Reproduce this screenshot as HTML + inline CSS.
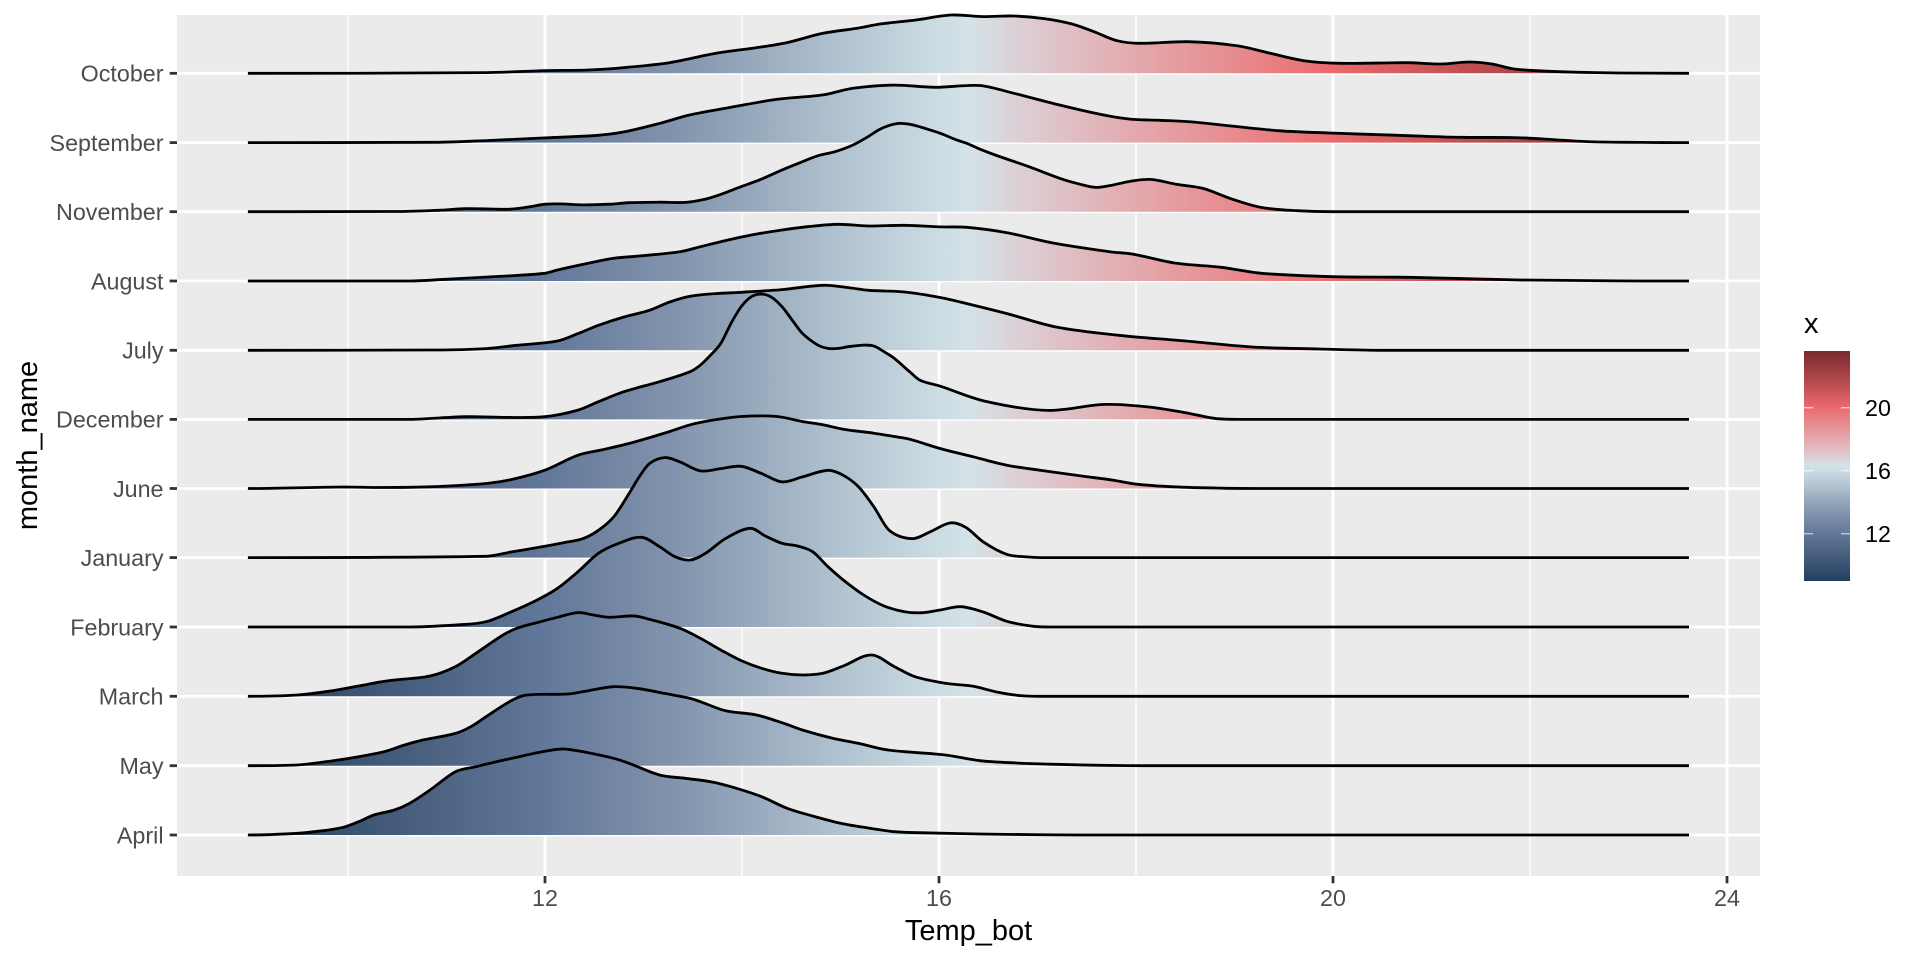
<!DOCTYPE html>
<html>
<head>
<meta charset="utf-8">
<style>
html,body{margin:0;padding:0;background:#ffffff;}
svg{display:block;}
text{font-family:"Liberation Sans", Arial, sans-serif;}
</style>
</head>
<body>
<svg id="chart" width="1920" height="960" viewBox="0 0 1920 960" xmlns="http://www.w3.org/2000/svg">
<defs>
<linearGradient id="g" gradientUnits="userSpaceOnUse" x1="247.9" y1="0" x2="1689" y2="0">
<stop offset="0" stop-color="#223e5e"/>
<stop offset="0.069" stop-color="#3b5373"/>
<stop offset="0.1375" stop-color="#4e6584"/>
<stop offset="0.206" stop-color="#62789a"/>
<stop offset="0.274" stop-color="#7a8ca7"/>
<stop offset="0.343" stop-color="#94a6ba"/>
<stop offset="0.411" stop-color="#b1c2d0"/>
<stop offset="0.479" stop-color="#ccdce3"/>
<stop offset="0.5" stop-color="#d4e3e8"/>
<stop offset="0.534" stop-color="#dcd0d6"/>
<stop offset="0.582" stop-color="#e0b9be"/>
<stop offset="0.616" stop-color="#e3a9ad"/>
<stop offset="0.685" stop-color="#e78b8e"/>
<stop offset="0.753" stop-color="#ea6b6e"/>
<stop offset="0.821" stop-color="#cb5659"/>
<stop offset="0.890" stop-color="#a94447"/>
<stop offset="1" stop-color="#782a2f"/>
</linearGradient>
<linearGradient id="gl" gradientUnits="userSpaceOnUse" x1="0" y1="581" x2="0" y2="351">
<stop offset="0" stop-color="#223e5e"/>
<stop offset="0.069" stop-color="#3b5373"/>
<stop offset="0.1375" stop-color="#4e6584"/>
<stop offset="0.206" stop-color="#62789a"/>
<stop offset="0.274" stop-color="#7a8ca7"/>
<stop offset="0.343" stop-color="#94a6ba"/>
<stop offset="0.411" stop-color="#b1c2d0"/>
<stop offset="0.479" stop-color="#ccdce3"/>
<stop offset="0.5" stop-color="#d4e3e8"/>
<stop offset="0.534" stop-color="#dcd0d6"/>
<stop offset="0.582" stop-color="#e0b9be"/>
<stop offset="0.616" stop-color="#e3a9ad"/>
<stop offset="0.685" stop-color="#e78b8e"/>
<stop offset="0.753" stop-color="#ea6b6e"/>
<stop offset="0.821" stop-color="#cb5659"/>
<stop offset="0.890" stop-color="#a94447"/>
<stop offset="1" stop-color="#782a2f"/>
</linearGradient>
</defs>

<!-- panel -->
<rect x="177" y="15" width="1583" height="861" fill="#EBEBEB"/>
<!-- minor vertical grid -->
<g stroke="#ffffff" stroke-width="1.4">
<line x1="348" y1="15" x2="348" y2="876"/>
<line x1="742" y1="15" x2="742" y2="876"/>
<line x1="1136" y1="15" x2="1136" y2="876"/>
<line x1="1530" y1="15" x2="1530" y2="876"/>
</g>
<!-- major grid -->
<g stroke="#ffffff" stroke-width="2.8">
<line x1="545" y1="15" x2="545" y2="876"/>
<line x1="939" y1="15" x2="939" y2="876"/>
<line x1="1333" y1="15" x2="1333" y2="876"/>
<line x1="1727" y1="15" x2="1727" y2="876"/>
<line x1="177" y1="73.3" x2="1760" y2="73.3"/>
<line x1="177" y1="142.6" x2="1760" y2="142.6"/>
<line x1="177" y1="211.7" x2="1760" y2="211.7"/>
<line x1="177" y1="281" x2="1760" y2="281"/>
<line x1="177" y1="350.3" x2="1760" y2="350.3"/>
<line x1="177" y1="419.4" x2="1760" y2="419.4"/>
<line x1="177" y1="488.5" x2="1760" y2="488.5"/>
<line x1="177" y1="557.6" x2="1760" y2="557.6"/>
<line x1="177" y1="627" x2="1760" y2="627"/>
<line x1="177" y1="696.3" x2="1760" y2="696.3"/>
<line x1="177" y1="765.7" x2="1760" y2="765.7"/>
<line x1="177" y1="835" x2="1760" y2="835"/>
</g>

<g id="ridges" stroke="#000000" stroke-width="2.8" stroke-linejoin="round" stroke-linecap="butt">
<!-- October -->
<polygon fill="url(#g)" stroke="none" points="247.9,73.3 486,72.6 545,70.6 588,70 624,67.6 670,62.6 716,53.3 757,47.6 787,42.6 823,33.3 859,28 880,24 916,20 951,15 983,16.6 1014,16 1045,18.7 1072,24 1094,31.7 1117,40.7 1139,43.3 1188,41.7 1237,45.7 1268,52.7 1304,60.7 1340,63.3 1407,62.7 1442,64 1469,62 1492,64 1514,69 1550,71.3 1580,72.3 1620,73 1689,73.3"/>
<polyline fill="none" points="247.9,73.3 486,72.6 545,70.6 588,70 624,67.6 670,62.6 716,53.3 757,47.6 787,42.6 823,33.3 859,28 880,24 916,20 951,15 983,16.6 1014,16 1045,18.7 1072,24 1094,31.7 1117,40.7 1139,43.3 1188,41.7 1237,45.7 1268,52.7 1304,60.7 1340,63.3 1407,62.7 1442,64 1469,62 1492,64 1514,69 1550,71.3 1580,72.3 1620,73 1689,73.3"/>
<!-- September -->
<polygon fill="url(#g)" stroke="none" points="247.9,142.6 435,142.3 486,140.6 545,137.9 598,135.3 624,131.9 660,123.3 690,114.9 731,107.3 777,99.3 823,94.9 853,88.3 894,85.1 935,87.3 966,85.6 983,85.9 1014,93.3 1059,104.9 1103,114.9 1130,119.1 1160,120.3 1194,122.1 1230,125.9 1280,130.8 1330,133 1409,135.7 1460,137.3 1514,137.6 1545,139.1 1587,141.6 1640,142.4 1689,142.6"/>
<polyline fill="none" points="247.9,142.6 435,142.3 486,140.6 545,137.9 598,135.3 624,131.9 660,123.3 690,114.9 731,107.3 777,99.3 823,94.9 853,88.3 894,85.1 935,87.3 966,85.6 983,85.9 1014,93.3 1059,104.9 1103,114.9 1130,119.1 1160,120.3 1194,122.1 1230,125.9 1280,130.8 1330,133 1409,135.7 1460,137.3 1514,137.6 1545,139.1 1587,141.6 1640,142.4 1689,142.6"/>
<!-- November -->
<polygon fill="url(#g)" stroke="none" points="247.9,211.7 400,211.5 440,210.2 465,208.7 490,209 510,209.2 530,206.7 545,204.2 560,203.9 583,204.9 610,204.2 629,202.7 660,202.2 685,202.4 705,199.2 720,194.7 741,186.7 760,179.7 782,170 800,162.7 818,155.7 835,151.7 853,145 868,136.7 879,129.7 890,125.2 900,123.4 912,124.7 925,128.4 940,133.2 956,139.7 967,143.4 980,149.2 998,156 1029,166.7 1060,178.4 1080,184.2 1096,187.4 1112,185.2 1128,181.7 1150,179.4 1177,184.4 1203,188.4 1230,198.4 1261,207.4 1297,210.7 1333,211.7 1689,211.7"/>
<polyline fill="none" points="247.9,211.7 400,211.5 440,210.2 465,208.7 490,209 510,209.2 530,206.7 545,204.2 560,203.9 583,204.9 610,204.2 629,202.7 660,202.2 685,202.4 705,199.2 720,194.7 741,186.7 760,179.7 782,170 800,162.7 818,155.7 835,151.7 853,145 868,136.7 879,129.7 890,125.2 900,123.4 912,124.7 925,128.4 940,133.2 956,139.7 967,143.4 980,149.2 998,156 1029,166.7 1060,178.4 1080,184.2 1096,187.4 1112,185.2 1128,181.7 1150,179.4 1177,184.4 1203,188.4 1230,198.4 1261,207.4 1297,210.7 1333,211.7 1689,211.7"/>
<!-- August -->
<polygon fill="url(#g)" stroke="none" points="247.9,281 409.6,281 445.3,279.3 506.5,276 544.8,273.3 557.5,270 588.2,263.3 613.7,258.3 639.2,256 680,251.7 700.4,246.7 720.8,241.7 751.4,235 782,230 807.5,226.7 838.2,224.3 868.8,226 904.5,225.3 940.2,226.9 966.8,227.3 1007,232.7 1051.6,242.7 1109.6,251.7 1132,254 1176.6,263.3 1221,267.3 1261.4,273.3 1333,276.7 1408.8,277.3 1520,280 1640,281 1689,281"/>
<polyline fill="none" points="247.9,281 409.6,281 445.3,279.3 506.5,276 544.8,273.3 557.5,270 588.2,263.3 613.7,258.3 639.2,256 680,251.7 700.4,246.7 720.8,241.7 751.4,235 782,230 807.5,226.7 838.2,224.3 868.8,226 904.5,225.3 940.2,226.9 966.8,227.3 1007,232.7 1051.6,242.7 1109.6,251.7 1132,254 1176.6,263.3 1221,267.3 1261.4,273.3 1333,276.7 1408.8,277.3 1520,280 1640,281 1689,281"/>
<!-- July -->
<polygon fill="url(#g)" stroke="none" points="247.9,350.3 435,350 486.1,348.6 516.7,345.3 557.5,341 578,333.6 598.4,325.3 623.9,317 649.4,310.3 669.8,302 690.2,296.3 715.7,293.6 741.2,292.3 782,289.6 822.9,285.3 848.4,287.6 868.8,290.3 904.5,292 940.2,297.5 966.8,303.6 1007,313.6 1056,327 1118.6,335.3 1185.5,341 1252.5,347 1319.5,349 1380,350.3 1689,350.3"/>
<polyline fill="none" points="247.9,350.3 435,350 486.1,348.6 516.7,345.3 557.5,341 578,333.6 598.4,325.3 623.9,317 649.4,310.3 669.8,302 690.2,296.3 715.7,293.6 741.2,292.3 782,289.6 822.9,285.3 848.4,287.6 868.8,290.3 904.5,292 940.2,297.5 966.8,303.6 1007,313.6 1056,327 1118.6,335.3 1185.5,341 1252.5,347 1319.5,349 1380,350.3 1689,350.3"/>
<!-- December -->
<polygon fill="url(#g)" stroke="none" points="247.9,419.4 409.6,419.4 465.7,416.7 506.5,417.4 544.8,416.7 578,410.1 598.4,401.7 623.9,391.7 659.6,381.7 690.2,371.7 700.4,365.1 710.6,355.1 720.8,343.4 731,323.4 741.2,306.7 751.4,296.7 761.6,294.1 771.8,297.4 782,306.7 792.2,320.1 802.4,333.4 817.8,345.1 828,348.4 838.2,348.4 848.4,346.7 863.7,345.1 873.9,346.1 884.1,351.7 894.3,358.4 909.6,371.7 919.8,380.1 940,386.1 984.6,401.1 1047,410.4 1105,404.4 1149.8,407.1 1185.5,412.7 1216.8,418.7 1240,419.4 1689,419.4"/>
<polyline fill="none" points="247.9,419.4 409.6,419.4 465.7,416.7 506.5,417.4 544.8,416.7 578,410.1 598.4,401.7 623.9,391.7 659.6,381.7 690.2,371.7 700.4,365.1 710.6,355.1 720.8,343.4 731,323.4 741.2,306.7 751.4,296.7 761.6,294.1 771.8,297.4 782,306.7 792.2,320.1 802.4,333.4 817.8,345.1 828,348.4 838.2,348.4 848.4,346.7 863.7,345.1 873.9,346.1 884.1,351.7 894.3,358.4 909.6,371.7 919.8,380.1 940,386.1 984.6,401.1 1047,410.4 1105,404.4 1149.8,407.1 1185.5,412.7 1216.8,418.7 1240,419.4 1689,419.4"/>
<!-- June -->
<polygon fill="url(#g)" stroke="none" points="247.9,488.5 343,487 380,487.5 430,486.8 486.1,483.5 511.6,479.5 544.8,470.2 578,455.2 603.7,449.5 629,443.5 644.3,439.2 669.8,431.5 690.2,424.8 710.6,420.5 741.2,416.5 776.9,416.5 802.4,421.5 822.9,424.8 843.3,429.2 873.9,433.2 894.3,436.5 909.6,439.2 940,448.5 973.3,456.8 1006.7,465.2 1040,470.2 1083.3,476.2 1113.3,480.2 1136.7,484.2 1173,486.8 1223,488.2 1260,488.5 1689,488.5"/>
<polyline fill="none" points="247.9,488.5 343,487 380,487.5 430,486.8 486.1,483.5 511.6,479.5 544.8,470.2 578,455.2 603.7,449.5 629,443.5 644.3,439.2 669.8,431.5 690.2,424.8 710.6,420.5 741.2,416.5 776.9,416.5 802.4,421.5 822.9,424.8 843.3,429.2 873.9,433.2 894.3,436.5 909.6,439.2 940,448.5 973.3,456.8 1006.7,465.2 1040,470.2 1083.3,476.2 1113.3,480.2 1136.7,484.2 1173,486.8 1223,488.2 1260,488.5 1689,488.5"/>
<!-- January -->
<polygon fill="url(#g)" stroke="none" points="247.9,557.6 486.1,556.3 511.6,551.9 544.8,546.3 567.8,541.9 583.1,538.6 598.4,530.3 613.7,516.9 629,493.6 639.2,476.9 649.4,463.6 664.7,457.6 680,461.9 700.4,470.9 720.8,468.6 741.2,466.3 761.6,473.6 782,481.9 802.4,476.9 828,470.3 843.3,475.3 858.6,486.9 873.9,506.9 889.2,530.3 912.1,538.6 930,531.9 950.4,522.9 965.7,527.3 983.3,541.9 1006.7,554.3 1026.7,556.9 1040,557.6 1689,557.6"/>
<polyline fill="none" points="247.9,557.6 486.1,556.3 511.6,551.9 544.8,546.3 567.8,541.9 583.1,538.6 598.4,530.3 613.7,516.9 629,493.6 639.2,476.9 649.4,463.6 664.7,457.6 680,461.9 700.4,470.9 720.8,468.6 741.2,466.3 761.6,473.6 782,481.9 802.4,476.9 828,470.3 843.3,475.3 858.6,486.9 873.9,506.9 889.2,530.3 912.1,538.6 930,531.9 950.4,522.9 965.7,527.3 983.3,541.9 1006.7,554.3 1026.7,556.9 1040,557.6 1689,557.6"/>
<!-- February -->
<polygon fill="url(#g)" stroke="none" points="247.9,627 409.6,627 460.6,624.7 486.1,621.7 511.6,611.7 537.1,600 557.5,588.3 578,571.7 598.4,553.3 618.8,543.3 641.7,537.3 659.6,546.7 674.9,556.7 690.2,560 705.5,553.3 725.9,538.3 750.4,528.3 765.3,536 782,543.3 797.3,546 812.6,551.7 828,566.7 843.3,580 863.7,595 884.1,606 904.5,611.7 922.3,612.7 940.2,610 960.6,606.7 983.3,612 1006.7,621.3 1033.3,626.3 1050,627 1689,627"/>
<polyline fill="none" points="247.9,627 409.6,627 460.6,624.7 486.1,621.7 511.6,611.7 537.1,600 557.5,588.3 578,571.7 598.4,553.3 618.8,543.3 641.7,537.3 659.6,546.7 674.9,556.7 690.2,560 705.5,553.3 725.9,538.3 750.4,528.3 765.3,536 782,543.3 797.3,546 812.6,551.7 828,566.7 843.3,580 863.7,595 884.1,606 904.5,611.7 922.3,612.7 940.2,610 960.6,606.7 983.3,612 1006.7,621.3 1033.3,626.3 1050,627 1689,627"/>
<!-- March -->
<polygon fill="url(#g)" stroke="none" points="247.9,696.3 297.3,695 333.1,690.6 358.6,686 389.2,680.6 430,676 455.5,666.6 475.9,653.3 501.4,636 516.7,628.3 537.1,622.6 557.5,617.3 578,612.6 593.3,615 608.6,617.3 634.1,616 649.4,619.3 680,628.3 700.4,638.3 720.8,650 741.2,660.6 761.6,668.3 782,673.3 802.4,675 822.9,673.3 843.3,666 871.3,655 894.3,666.6 914.7,676.6 945.3,683.3 973.3,686.3 996.7,692 1020,695.6 1040,696.3 1689,696.3"/>
<polyline fill="none" points="247.9,696.3 297.3,695 333.1,690.6 358.6,686 389.2,680.6 430,676 455.5,666.6 475.9,653.3 501.4,636 516.7,628.3 537.1,622.6 557.5,617.3 578,612.6 593.3,615 608.6,617.3 634.1,616 649.4,619.3 680,628.3 700.4,638.3 720.8,650 741.2,660.6 761.6,668.3 782,673.3 802.4,675 822.9,673.3 843.3,666 871.3,655 894.3,666.6 914.7,676.6 945.3,683.3 973.3,686.3 996.7,692 1020,695.6 1040,696.3 1689,696.3"/>
<!-- May -->
<polygon fill="url(#g)" stroke="none" points="247.9,765.7 297.3,765 333.1,760.7 358.6,756.7 384.1,751.7 404.5,745 419.8,740.7 455.5,733.4 470.8,726.7 486.1,716.7 506.5,703.4 521.8,696 537.1,694.4 567.8,694 588.2,690.7 613.7,686.7 639.2,688.7 664.7,693.4 690.2,698.4 700.4,701.7 720.8,709.4 731,711.7 756.5,715 782,722.7 802.4,730 833.1,738.4 858.6,743.4 884.1,749.4 904.5,751.7 945.3,755 980,760.7 1010,762.7 1050,764.2 1100,765.3 1150,765.7 1689,765.7"/>
<polyline fill="none" points="247.9,765.7 297.3,765 333.1,760.7 358.6,756.7 384.1,751.7 404.5,745 419.8,740.7 455.5,733.4 470.8,726.7 486.1,716.7 506.5,703.4 521.8,696 537.1,694.4 567.8,694 588.2,690.7 613.7,686.7 639.2,688.7 664.7,693.4 690.2,698.4 700.4,701.7 720.8,709.4 731,711.7 756.5,715 782,722.7 802.4,730 833.1,738.4 858.6,743.4 884.1,749.4 904.5,751.7 945.3,755 980,760.7 1010,762.7 1050,764.2 1100,765.3 1150,765.7 1689,765.7"/>
<!-- April -->
<polygon fill="url(#g)" stroke="none" points="247.9,835 297.3,833.3 322.9,830.7 343.3,827.3 358.6,821.7 373.9,815 394.3,810 409.6,803.3 430,790 455.5,771.7 475.9,766.7 496.3,761.7 516.7,757.3 537.1,752.7 557.5,749.3 567.8,749.3 588.2,752.7 613.7,758.3 629,763.3 659.6,775 685.1,778.3 710.6,781.7 731,786.7 761.6,796.7 787.1,808.3 812.6,816 838.2,822.7 863.7,827.3 894.3,831.7 919.8,832.7 980,834 1030,834.6 1080,835 1689,835"/>
<polyline fill="none" points="247.9,835 297.3,833.3 322.9,830.7 343.3,827.3 358.6,821.7 373.9,815 394.3,810 409.6,803.3 430,790 455.5,771.7 475.9,766.7 496.3,761.7 516.7,757.3 537.1,752.7 557.5,749.3 567.8,749.3 588.2,752.7 613.7,758.3 629,763.3 659.6,775 685.1,778.3 710.6,781.7 731,786.7 761.6,796.7 787.1,808.3 812.6,816 838.2,822.7 863.7,827.3 894.3,831.7 919.8,832.7 980,834 1030,834.6 1080,835 1689,835"/>
</g>

<!-- axis ticks -->
<g stroke="#333333" stroke-width="2.8">
<line x1="545" y1="876" x2="545" y2="883.3"/>
<line x1="939" y1="876" x2="939" y2="883.3"/>
<line x1="1333" y1="876" x2="1333" y2="883.3"/>
<line x1="1727" y1="876" x2="1727" y2="883.3"/>
<line x1="169.7" y1="73.3" x2="177" y2="73.3"/>
<line x1="169.7" y1="142.6" x2="177" y2="142.6"/>
<line x1="169.7" y1="211.7" x2="177" y2="211.7"/>
<line x1="169.7" y1="281" x2="177" y2="281"/>
<line x1="169.7" y1="350.3" x2="177" y2="350.3"/>
<line x1="169.7" y1="419.4" x2="177" y2="419.4"/>
<line x1="169.7" y1="488.5" x2="177" y2="488.5"/>
<line x1="169.7" y1="557.6" x2="177" y2="557.6"/>
<line x1="169.7" y1="627" x2="177" y2="627"/>
<line x1="169.7" y1="696.3" x2="177" y2="696.3"/>
<line x1="169.7" y1="765.7" x2="177" y2="765.7"/>
<line x1="169.7" y1="835" x2="177" y2="835"/>
</g>

<!-- x tick labels -->
<g font-size="23.3" fill="#4D4D4D" text-anchor="middle">
<text x="545" y="906">12</text>
<text x="939" y="906">16</text>
<text x="1333" y="906">20</text>
<text x="1727" y="906">24</text>
</g>
<!-- y tick labels -->
<g font-size="23.3" fill="#4D4D4D" text-anchor="end">
<text x="163.5" y="81.6">October</text>
<text x="163.5" y="150.9">September</text>
<text x="163.5" y="220">November</text>
<text x="163.5" y="289.3">August</text>
<text x="163.5" y="358.6">July</text>
<text x="163.5" y="427.7">December</text>
<text x="163.5" y="496.8">June</text>
<text x="163.5" y="565.9">January</text>
<text x="163.5" y="635.3">February</text>
<text x="163.5" y="704.6">March</text>
<text x="163.5" y="774">May</text>
<text x="163.5" y="843.3">April</text>
</g>

<!-- axis titles -->
<text x="968.5" y="940" font-size="29" fill="#000000" text-anchor="middle">Temp_bot</text>
<text transform="translate(37,445.5) rotate(-90)" font-size="29" fill="#000000" text-anchor="middle">month_name</text>

<!-- legend -->
<text x="1804" y="333" font-size="29" fill="#000000">x</text>
<rect x="1804" y="351" width="46" height="230" fill="url(#gl)"/>
<g stroke="#ffffff" stroke-opacity="0.6" stroke-width="1.4">
<line x1="1804" y1="407.7" x2="1813" y2="407.7"/>
<line x1="1841" y1="407.7" x2="1850" y2="407.7"/>
<line x1="1804" y1="470.7" x2="1813" y2="470.7"/>
<line x1="1841" y1="470.7" x2="1850" y2="470.7"/>
<line x1="1804" y1="533.7" x2="1813" y2="533.7"/>
<line x1="1841" y1="533.7" x2="1850" y2="533.7"/>
</g>
<g font-size="23.3" fill="#000000">
<text x="1865" y="416">20</text>
<text x="1865" y="479">16</text>
<text x="1865" y="542">12</text>
</g>
</svg>
<script>
(function(){try{
var ns="http://www.w3.org/2000/svg";
var els=document.querySelectorAll('#ridges polyline, #ridges polygon');
for(var k=0;k<els.length;k++){
var el=els[k];
var raw=el.getAttribute('points').trim().split(/\s+/);
var a=[];for(var i=0;i<raw.length;i++){var q=raw[i].split(',');a.push([parseFloat(q[0]),parseFloat(q[1])]);}
var n=a.length,b=a[n-1][1];
var m=[];for(var i=0;i<n;i++){
if(i===0||i===n-1){m.push(0);}
else{m.push((a[i+1][1]-a[i-1][1])/(a[i+1][0]-a[i-1][0]));}}
var s='M'+a[0][0]+','+a[0][1];
for(var i=0;i<n-1;i++){
var h=a[i+1][0]-a[i][0];
var c1x=a[i][0]+h/3,c1y=Math.min(b,a[i][1]+m[i]*h/3);
var c2x=a[i+1][0]-h/3,c2y=Math.min(b,a[i+1][1]-m[i+1]*h/3);
s+=' C'+c1x.toFixed(2)+','+c1y.toFixed(2)+' '+c2x.toFixed(2)+','+c2y.toFixed(2)+' '+a[i+1][0]+','+a[i+1][1];}
if(el.tagName.toLowerCase()==='polygon'){s+=' Z';}
var p=document.createElementNS(ns,'path');
p.setAttribute('d',s);
if(el.hasAttribute('fill'))p.setAttribute('fill',el.getAttribute('fill'));
if(el.hasAttribute('stroke'))p.setAttribute('stroke',el.getAttribute('stroke'));
el.parentNode.replaceChild(p,el);}
}catch(e){}})();
</script>
</body>
</html>
